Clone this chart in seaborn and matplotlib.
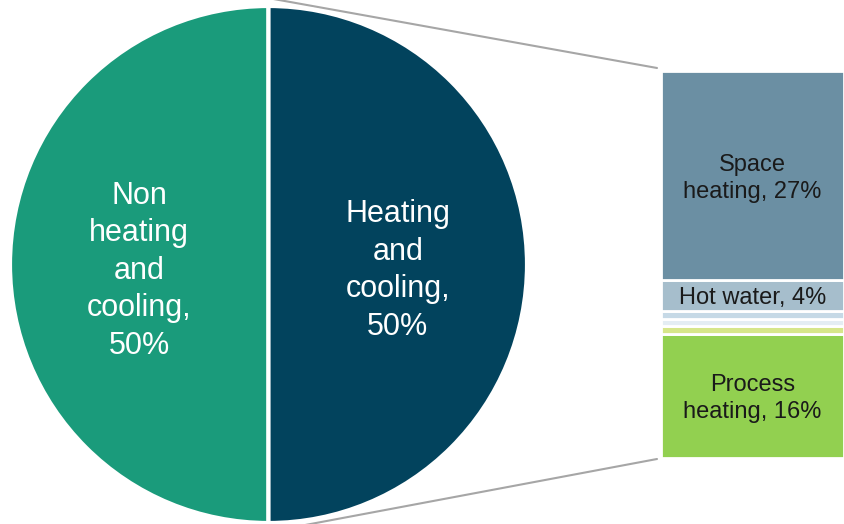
import matplotlib
matplotlib.use("Agg")
import matplotlib.pyplot as plt
import seaborn as sns
from matplotlib.lines import Line2D

sns.set_theme(style="white")
plt.rcParams['font.family'] = ['Liberation Sans', 'DejaVu Sans']

# Data
pie_labels = ["Non\nheating\nand\ncooling,\n50%", "Heating\nand\ncooling,\n50%"]
pie_values = [50, 50]
pie_colors = ["#1a9b7b", "#02435d"]

bar_names = ["Process heating", "Other 3", "Other 2", "Other 1", "Hot water", "Space heating"]
bar_values = [16, 1, 1, 1, 4, 27]
bar_labels = ["Process\nheating, 16%", "", "", "", "Hot water, 4%", "Space\nheating, 27%"]
bar_colors = ["#92d050", "#d6e68a", "#e4edf3", "#c6d9e6", "#a6becc", "#6b8fa3"]

W, H = 844, 524
fig = plt.figure(figsize=(W / 100, H / 100), dpi=100)

# Background axes for connector lines
bg = fig.add_axes([0, 0, 1, 1], zorder=0)
bg.set_xlim(0, W)
bg.set_ylim(H, 0)
bg.axis("off")

# Pie axes
cx, cy, r = 268.5, 264.5, 258.5
pax = fig.add_axes([(cx - r) / W, (H - cy - r) / H, 2 * r / W, 2 * r / H], zorder=2)
pax.patch.set_alpha(0)
wedges, texts = pax.pie(pie_values, labels=pie_labels, colors=pie_colors, startangle=90,
                        counterclock=True, labeldistance=0.5,
                        wedgeprops=dict(edgecolor="white", linewidth=3),
                        textprops=dict(color="white", fontsize=22))
for t in texts:
    t.set_ha("center")
    t.set_va("center")
    t.set_linespacing(1.33)
    x, y = t.get_position()
    t.set_position((x, y - 0.024))
pax.set_xlim(-1, 1)
pax.set_ylim(-1, 1)
pax.set_aspect("equal")
pax.axis("off")

# Stacked bar axes
bx0, bx1, by0, by1 = 661, 844, 71, 458
bax = fig.add_axes([bx0 / W, (H - by1) / H, (bx1 - bx0) / W, (by1 - by0) / H], zorder=1)
bax.patch.set_alpha(0)
bottom = 0
for name, v, lab, c in zip(bar_names, bar_values, bar_labels, bar_colors):
    bax.bar(0, v, bottom=bottom, width=1, color=c, edgecolor="white", linewidth=2)
    if lab:
        bax.text(0, bottom + v / 2 - 0.35, lab, ha="center", va="center", fontsize=17,
                 color="#1a1a1a", linespacing=1.3)
    bottom += v
bax.set_xlim(-0.5, 0.5)
bax.set_ylim(0, sum(bar_values))
bax.axis("off")

# Connector lines (under pie)
bg.add_line(Line2D([bx0 - 4, 268], [by0 - 3, -2], color="#a6a6a6", linewidth=1.5))
bg.add_line(Line2D([bx0 - 4, 268], [by1 + 1, 532], color="#a6a6a6", linewidth=1.5))

fig.savefig("out.png", dpi=100)
